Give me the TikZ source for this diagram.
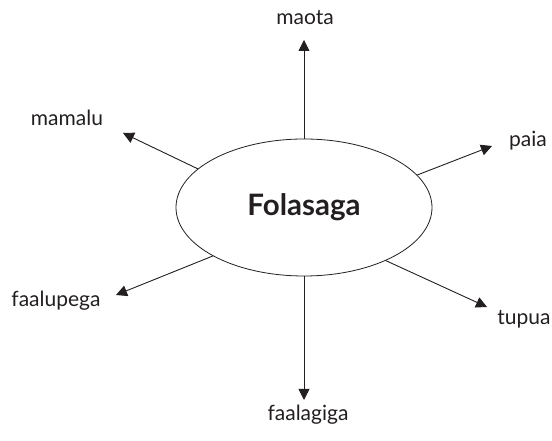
\documentclass[tikz,border=0pt]{standalone}
\usepackage{fontspec}
\setmainfont{Lato}
\usepackage{tikz}
\usetikzlibrary{shapes.geometric,arrows.meta}
\definecolor{inkBlack}{RGB}{35,31,32}
\tikzset{
  hub/.style={draw=inkBlack,ellipse,minimum width=256pt,minimum height=137pt,inner sep=0pt,
              font=\fontsize{29.5}{32}\selectfont\bfseries,text=inkBlack,line width=0.8pt},
  term/.style={font=\fontsize{21}{24}\selectfont,text=inkBlack,anchor=base,inner sep=0pt},
  arr/.style={-{Triangle[length=11pt,width=11pt]},line width=0.9pt,inkBlack},
}

\begin{document}
\begin{tikzpicture}[x=1pt,y=1pt]
  \useasboundingbox (0,0) rectangle (552,441);
  \node[hub] (fol) at (304,233.5) {Folasaga};
  % outer terms, set on their baselines
  \node[term] (maota)     at (305,416) {maota};
  \node[term] (paia)      at (528,294) {paia};
  \node[term] (tupua)     at (524,116) {tupua};
  \node[term] (faalagiga) at (308,20)  {faalagiga};
  \node[term] (faalupega) at (56,134)  {faalupega};
  \node[term] (mamalu)    at (67,315)  {mamalu};
  % arrow tips
  \coordinate (tMaota)     at (304,401);
  \coordinate (tPaia)      at (492,295);
  \coordinate (tTupua)     at (487,134);
  \coordinate (tFaalagiga) at (304,41);
  \coordinate (tFaalupega) at (116,146);
  \coordinate (tMamalu)    at (123,308);
  \foreach \a/\b in {90/tMaota,16/tPaia,327/tTupua,270/tFaalagiga,208/tFaalupega,160/tMamalu}
    \draw[arr] (fol.\a)--(\b);
\end{tikzpicture}
\end{document}
